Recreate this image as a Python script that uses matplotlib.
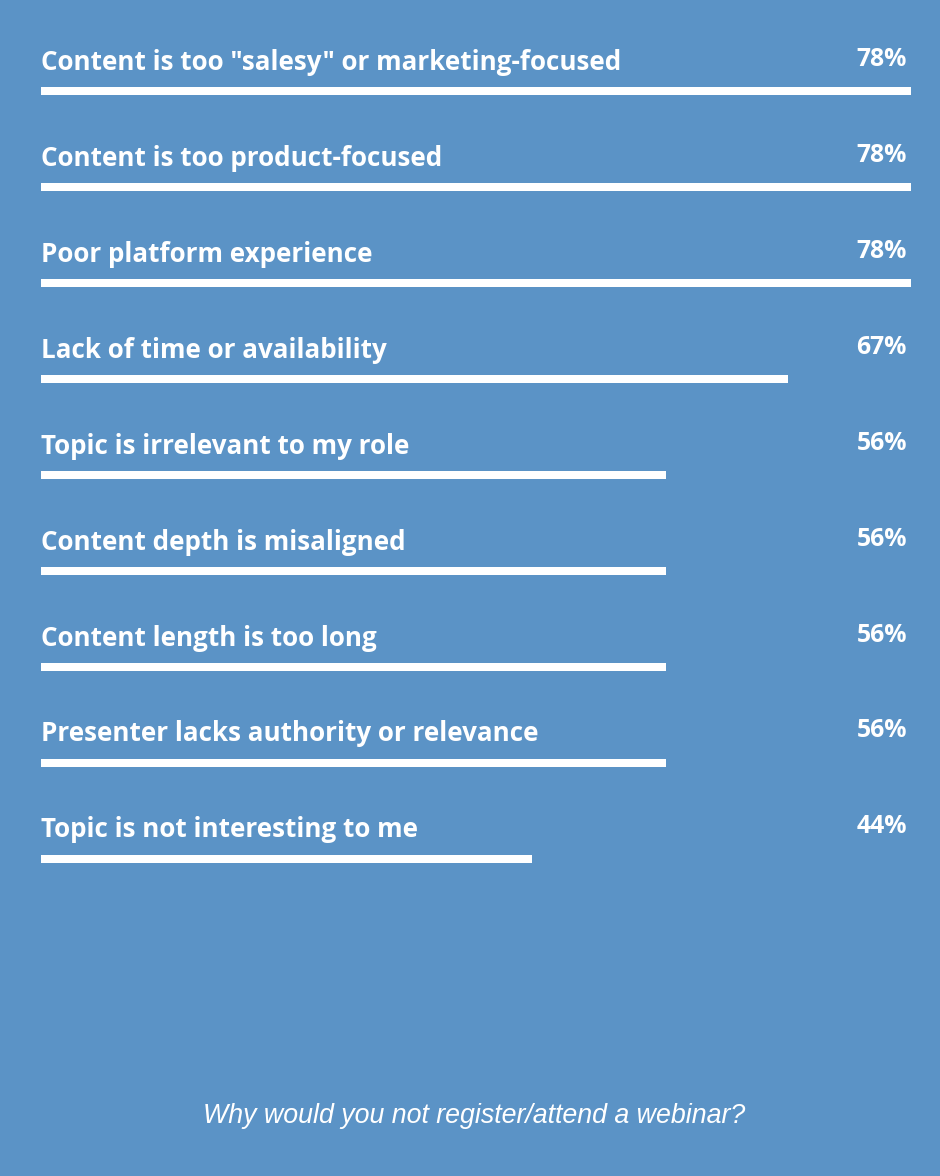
import matplotlib
matplotlib.use('Agg')
import matplotlib.pyplot as plt

labels = [
    'Content is too "salesy" or marketing-focused',
    "Content is too product-focused",
    "Poor platform experience",
    "Lack of time or availability",
    "Topic is irrelevant to my role",
    "Content depth is misaligned",
    "Content length is too long",
    "Presenter lacks authority or relevance",
    "Topic is not interesting to me",
]
values = [78, 78, 78, 67, 56, 56, 56, 56, 44]
caption = "Why would you not register/attend a webinar?"

BG = "#5b93c6"
W, H = 940, 1176
k = 870 / 78          # px per percent
x0 = 41               # px where 0% sits
y0, step = 91, 96     # px of first bar centre, row spacing

fig = plt.figure(figsize=(W / 100, H / 100), dpi=100)
fig.patch.set_facecolor(BG)
ax = fig.add_axes([0, 0, 1, 1])
ax.set_facecolor(BG)
ax.set_xlim(-x0 / k, (W - x0) / k)
ax.set_ylim((H - y0) / step, -y0 / step)
ax.axis("off")

rows = range(len(values))
ax.barh(list(rows), values, height=8 / step, left=0, color="white")

for i, (lab, v) in enumerate(zip(labels, values)):
    ax.text(0, i - 29 / step, lab, fontsize=18.7, fontweight="bold", family="Open Sans",
            color="white", ha="left", va="center")
    ax.text((907 - x0) / k, i - 32 / step, f"{v}%", fontsize=17.8, fontweight="bold",
            family="Open Sans", color="white", ha="right", va="center")

fig.text(474 / W, 1 - 1116 / H, caption, fontsize=19.3, style="italic",
         family="Liberation Sans", color="white", ha="center", va="center")

fig.savefig("out.png", dpi=100, facecolor=BG)
